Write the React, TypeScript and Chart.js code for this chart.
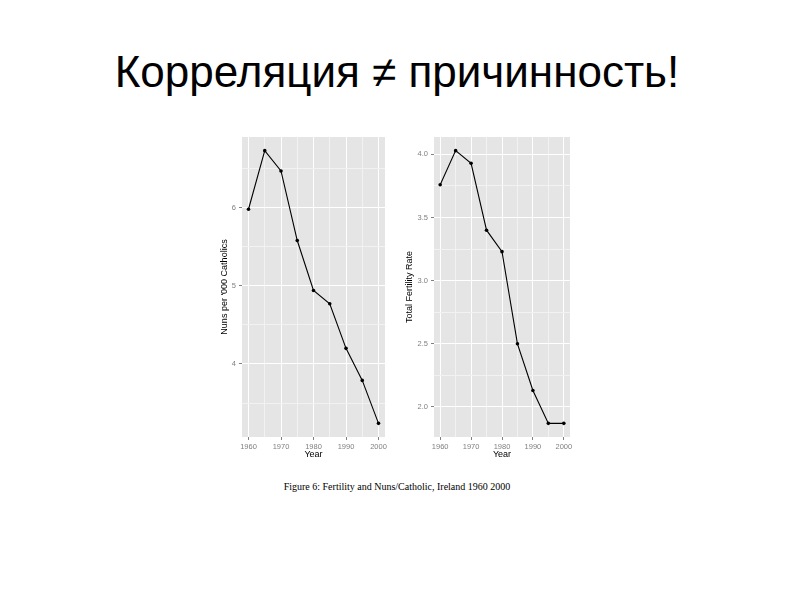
import React, { useEffect, useRef } from "react";
import { Chart, registerables } from "chart.js";
Chart.register(...registerables);

const years = [1960, 1965, 1970, 1975, 1980, 1985, 1990, 1995, 2000];
const nunsPer1000 = [5.98, 6.73, 6.47, 5.58, 4.94, 4.77, 4.2, 3.79, 3.24];
const fertilityRate = [3.76, 4.03, 3.93, 3.4, 3.23, 2.5, 2.13, 1.87, 1.87];

const yearMajorTicks = [1960, 1970, 1980, 1990, 2000];
const yearMinorTicks = [1965, 1975, 1985, 1995];
const nunsMajorTicks = [4, 5, 6];
const nunsMinorTicks = [3.5, 4.5, 5.5, 6.5];
const fertMajorTicks = [2.0, 2.5, 3.0, 3.5, 4.0];
const fertMinorTicks = [2.25, 2.75, 3.25, 3.75];

const titleText = "Корреляция ≠ причинность!";
const captionText = "Figure 6: Fertility and Nuns/Catholic, Ireland 1960 2000";
const xTitle = "Year";
const nunsTitle = "Nuns per '000 Catholics";
const fertTitle = "Total Fertility Rate";

const SANS = "'Liberation Sans', Arial, Helvetica, sans-serif";
const SERIF = "'Liberation Serif', 'Times New Roman', serif";

function expand(vals: number[]): [number, number] {
  const mn = Math.min(...vals);
  const mx = Math.max(...vals);
  const r = mx - mn;
  return [mn - 0.05 * r, mx + 0.05 * r];
}

function buildTicks(major: number[], minor: number[]) {
  return [
    ...major.map((v) => ({ value: v, minor: false })),
    ...minor.map((v) => ({ value: v, minor: true })),
  ].sort((a, b) => a.value - b.value);
}

const panelBg = {
  id: "panelBg",
  beforeDraw(chart: any) {
    const { ctx, chartArea } = chart;
    ctx.save();
    ctx.fillStyle = "#e5e5e5";
    ctx.fillRect(chartArea.left, chartArea.top, chartArea.right - chartArea.left, chartArea.bottom - chartArea.top);
    ctx.restore();
  },
};

const gridOpts = {
  color: (c: any) => (c.tick && c.tick.minor ? "#f2f2f2" : "#ffffff"),
  lineWidth: 1,
  tickColor: (c: any) => (c.tick && c.tick.minor ? "rgba(0,0,0,0)" : "#7f7f7f"),
  tickLength: 3,
  tickWidth: 1,
};

type PanelProps = {
  left: number;
  values: number[];
  yTitle: string;
  major: number[];
  minor: number[];
  decimals: number;
  yAxisWidth: number;
  yTitlePad: number;
  padRight: number;
};

function Panel(p: PanelProps) {
  const ref = useRef<HTMLCanvasElement | null>(null);
  useEffect(() => {
    if (!ref.current) return;
    const [xmin, xmax] = expand(years);
    const [ymin, ymax] = expand(p.values);
    const chart = new Chart(ref.current, {
      type: "line",
      data: {
        datasets: [
          {
            data: years.map((y, i) => ({ x: y, y: p.values[i] })),
            borderColor: "#000000",
            borderWidth: 1.1,
            pointRadius: 1.8,
            pointBackgroundColor: "#000000",
            pointBorderWidth: 0,
            tension: 0,
          },
        ],
      },
      options: {
        animation: false,
        responsive: false,
        devicePixelRatio: 1,
        layout: { padding: { top: 10, right: p.padRight, left: 0, bottom: 0 } },
        plugins: { legend: { display: false }, tooltip: { enabled: false } },
        scales: {
          x: {
            type: "linear",
            min: xmin,
            max: xmax,
            afterBuildTicks: (s: any) => {
              s.ticks = buildTicks(yearMajorTicks, yearMinorTicks);
            },
            afterFit: (s: any) => {
              s.height = 30;
            },
            border: { display: false },
            grid: gridOpts,
            ticks: {
              autoSkip: false,
              maxRotation: 0,
              padding: 2,
              color: "#7f7f7f",
              font: { family: SANS, size: 7.5 },
              callback: (v: any, i: number, t: any[]) => (t[i].minor ? "" : String(v)),
            },
            title: {
              display: true,
              text: xTitle,
              color: "#000000",
              font: { family: SANS, size: 9 },
              padding: { top: 0, bottom: 7 },
            },
          },
          y: {
            type: "linear",
            min: ymin,
            max: ymax,
            afterBuildTicks: (s: any) => {
              s.ticks = buildTicks(p.major, p.minor);
            },
            afterFit: (s: any) => {
              s.width = p.yAxisWidth;
            },
            border: { display: false },
            grid: gridOpts,
            ticks: {
              autoSkip: false,
              padding: 3,
              color: "#7f7f7f",
              font: { family: SANS, size: 7.5 },
              callback: (v: any, i: number, t: any[]) => (t[i].minor ? "" : Number(v).toFixed(p.decimals)),
            },
            title: {
              display: true,
              text: p.yTitle,
              color: "#000000",
              font: { family: SANS, size: 9 },
              padding: { top: p.yTitlePad, bottom: 0 },
            },
          },
        },
      },
      plugins: [panelBg],
    } as any);
    return () => chart.destroy();
  }, []);
  return (
    <canvas
      ref={ref}
      width={180}
      height={340}
      style={{ position: "absolute", left: p.left, top: 127, width: 180, height: 340 }}
    />
  );
}

export default function App() {
  return (
    <div style={{ position: "absolute", left: 0, top: 0, width: 794, height: 595, background: "#ffffff", overflow: "hidden" }}>
      <div
        style={{
          position: "absolute",
          left: 0,
          top: 50,
          width: 794,
          textAlign: "center",
          fontFamily: SANS,
          fontSize: 44,
          lineHeight: "44px",
          color: "#000000",
          whiteSpace: "nowrap",
        }}
      >
        {titleText}
      </div>
      <Panel left={212} values={nunsPer1000} yTitle={nunsTitle} major={nunsMajorTicks} minor={nunsMinorTicks} decimals={0} yAxisWidth={30} yTitlePad={7.5} padRight={7} />
      <Panel left={398} values={fertilityRate} yTitle={fertTitle} major={fertMajorTicks} minor={fertMinorTicks} decimals={1} yAxisWidth={36} yTitlePad={6.5} padRight={8} />
      <div
        style={{
          position: "absolute",
          left: 0,
          top: 481.6,
          width: 794,
          textAlign: "center",
          fontFamily: SERIF,
          fontSize: 10,
          lineHeight: "10px",
          color: "#000000",
          whiteSpace: "nowrap",
        }}
      >
        {captionText}
      </div>
    </div>
  );
}
